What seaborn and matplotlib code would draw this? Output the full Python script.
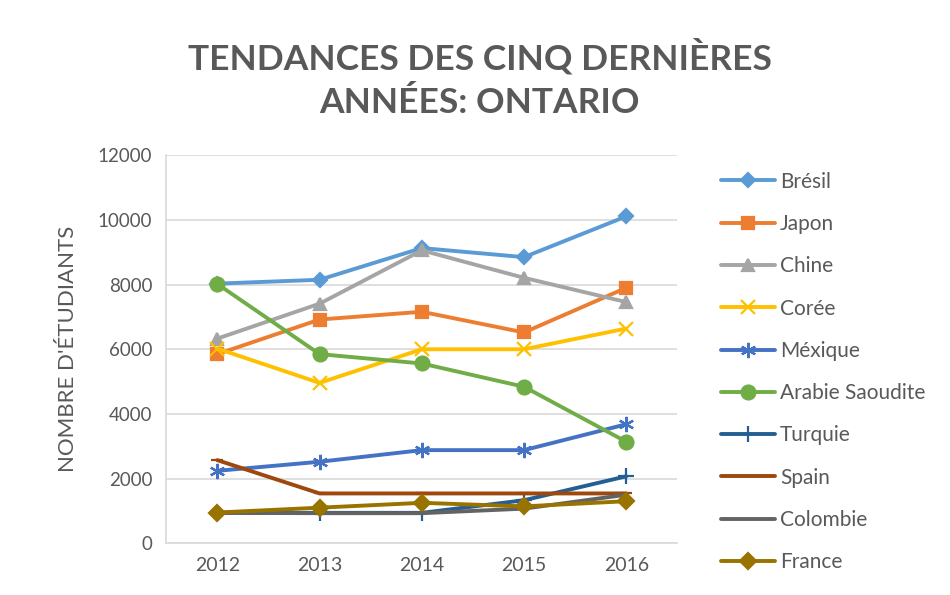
import numpy as np
import pandas as pd
import matplotlib
matplotlib.use("Agg")
import matplotlib.pyplot as plt
import seaborn as sns

# Data
YEARS = [2012, 2013, 2014, 2015, 2016]
COUNTRIES = ['Brésil', 'Japon', 'Chine', 'Corée', 'Méxique', 'Arabie Saoudite',
             'Turquie', 'Spain', 'Colombie', 'France']

bresil = [8030, 8150, 9130, 8850, 10110]
japon = [5850, 6920, 7160, 6520, 7900]
chine = [6330, 7410, 9060, 8210, 7460]
coree = [6020, 4960, 6000, 6000, 6640]
mexique = [2240, 2520, 2880, 2880, 3680]
arabie = [8020, 5850, 5560, 4840, 3140]
turquie = [940, 940, 940, 1330, 2070]
spain = [2570, 1540, 1540, 1540, 1540]
colombie = [940, 930, 930, 1070, 1500]
france = [950, 1100, 1250, 1140, 1300]

SERIES = [bresil, japon, chine, coree, mexique, arabie, turquie, spain, colombie, france]
COLORS = ['#5B9BD5', '#ED7D31', '#A5A5A5', '#FFC000', '#4472C4', '#70AD47',
          '#255E91', '#9E480E', '#636363', '#997300']
MARKERS = ['D', 's', '^', 'x', (6, 2, 0), 'o', '+', '_', None, 'D']
MSIZES = [7, 9, 9, 10, 11, 10, 11, 8, 0, 8]

sns.set_theme(style="white")
plt.rcParams['font.family'] = ['Lato', 'DejaVu Sans']

fig = plt.figure(figsize=(9.5, 5.95), dpi=100)
ax = fig.add_axes([0.175, 0.087, 0.538, 0.652])

for name, vals, col, mk, ms in zip(COUNTRIES, SERIES, COLORS, MARKERS, MSIZES):
    df = pd.DataFrame({'year': YEARS, 'value': vals})
    kw = dict(marker=mk, markersize=ms, markerfacecolor=col, markeredgecolor=col,
              markeredgewidth=1.6) if mk is not None else {}
    sns.lineplot(data=df, x='year', y='value', color=col, linewidth=2.8,
                 label=name, ax=ax, **kw)

ax.set_xlim(2011.5, 2016.5)
ax.set_ylim(0, 12000)
ax.set_yticks(np.arange(0, 12001, 2000))
ax.set_xticks(YEARS)
ax.set_xticklabels([str(y) for y in YEARS])
ax.grid(axis='y', color='#D9D9D9', linewidth=1.2)
ax.set_axisbelow(True)
for s in ['top', 'right']:
    ax.spines[s].set_visible(False)
ax.spines['left'].set_color('#D9D9D9')
ax.spines['bottom'].set_color('#D9D9D9')
ax.spines['left'].set_linewidth(1.2)
ax.spines['bottom'].set_linewidth(1.2)
ax.tick_params(axis='y', length=0, colors='#595959', labelsize=13.5, pad=10)
ax.tick_params(axis='x', length=0, colors='#595959', labelsize=14, pad=10)
ax.set_xlabel('')
ax.set_ylabel("NOMBRE D'ÉTUDIANTS", fontsize=16, color='#595959', labelpad=14)

fig.text(0.505, 0.867, "TENDANCES DES CINQ DERNIÈRES\nANNÉES: ONTARIO", ha='center', va='center',
         fontsize=25.5, fontweight='bold', color='#595959', linespacing=1.42)

leg = ax.legend(loc='upper left', bbox_to_anchor=(1.06, 0.99), frameon=False,
                fontsize=15, labelspacing=1.07, handlelength=2.6, handletextpad=0.25,
                borderaxespad=0.2)
for t in leg.get_texts():
    t.set_color('#595959')

fig.savefig('out.png', dpi=100)
